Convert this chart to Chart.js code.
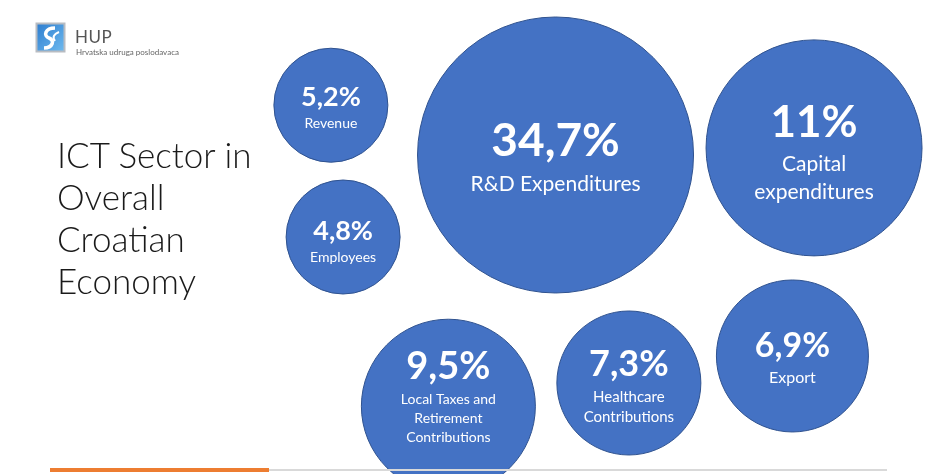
<!DOCTYPE html>
<html>
<head>
<meta charset="utf-8">
<title>ICT Sector in Overall Croatian Economy</title>
<script src="https://cdn.jsdelivr.net/npm/chart.js@4"></script>
<style>
  body { margin: 0; background: #fff; }
  #slide { position: relative; width: 940px; height: 474px; overflow: hidden; font-family: Lato, "Open Sans", sans-serif; }
  #chart { position: absolute; left: 0; top: 0; }
  .logo { position: absolute; left: 35px; top: 22px; }
  .hup { position: absolute; left: 75px; top: 26px; font-size: 17px; color: #555; letter-spacing: 0.5px; }
  .hup-sub { position: absolute; left: 76px; top: 47px; font-size: 8px; color: #666; }
  .title { position: absolute; left: 57px; top: 133px; font-size: 35px; line-height: 42px; font-weight: 300; color: #1a1a1a; }
  .line-orange { position: absolute; left: 50px; top: 468px; width: 219px; height: 4px; background: #ed7d31; }
  .line-grey { position: absolute; left: 269px; top: 469px; width: 618px; height: 2px; background: #d9d9d9; }
</style>
</head>
<body>
<div id="slide">
  <canvas id="chart" width="940" height="474"></canvas>
  <svg class="logo" width="31" height="31" viewBox="0 0 31 31">
    <defs>
      <linearGradient id="lg" x1="0" y1="0" x2="1" y2="1">
        <stop offset="0" stop-color="#2f7fd0"/>
        <stop offset="1" stop-color="#6cb8ee"/>
      </linearGradient>
    </defs>
    <rect x="0.5" y="0.5" width="30" height="30" fill="#b8bcc2"/>
    <rect x="2.5" y="2.5" width="26" height="26" fill="url(#lg)"/>
    <path d="M20 6 C10 6 8 14 14 16 C20 18 18 26 9 26" stroke="#fff" stroke-width="3.5" fill="none"/>
    <path d="M24 10 C19 12 17 15 20 19" stroke="#fff" stroke-width="2" fill="none"/>
  </svg>
  <div class="hup">HUP</div>
  <div class="hup-sub">Hrvatska udruga poslodavaca</div>
  <div class="title">ICT Sector in<br>Overall<br>Croatian<br>Economy</div>
  <div class="line-orange"></div>
  <div class="line-grey"></div>
</div>
<script>
// Значения и подписи пузырей
const values = ['5,2%', '4,8%', '34,7%', '11%', '9,5%', '7,3%', '6,9%'];
const categories = [
  ['Revenue'],
  ['Employees'],
  ['R&D Expenditures'],
  ['Capital', 'expenditures'],
  ['Local Taxes and', 'Retirement', 'Contributions'],
  ['Healthcare', 'Contributions'],
  ['Export']
];
// Координаты пузырей (x, y в условных единицах 0..100) и радиус
const bubbleX = [35.2, 36.5, 59.1, 86.6, 47.7, 66.9, 84.3];
const bubbleY = [22.2, 50.0, 32.7, 31.2, 85.7, 80.8, 75.1];
const bubbleR = [57, 57, 138, 108, 87, 72, 76];

// Стиль текста внутри пузырей
const pctSize = [27, 27, 46, 44, 38, 36, 34];
const labelSize = [14, 14, 21, 21, 14, 15, 16];
const textShift = [3, 5, 3, 6, -9, 4, 3];

const bubbleText = {
  id: 'bubbleText',
  afterDatasetsDraw(chart) {
    const ctx = chart.ctx;
    const meta = chart.getDatasetMeta(0);
    meta.data.forEach((pt, i) => {
      const p = pctSize[i], l = labelSize[i];
      const lh = l * 1.35, gap = p * 0.12;
      const lines = categories[i];
      const h = p + gap + lines.length * lh;
      const top = pt.y + textShift[i] - h / 2;
      ctx.save();
      ctx.fillStyle = '#fff';
      ctx.textAlign = 'center';
      ctx.textBaseline = 'middle';
      ctx.font = `bold ${p}px Lato, "Open Sans", sans-serif`;
      ctx.fillText(values[i], pt.x, top + p / 2);
      ctx.font = `${l}px Lato, "Open Sans", sans-serif`;
      lines.forEach((s, k) => ctx.fillText(s, pt.x, top + p + gap + lh * (k + 0.5)));
      ctx.restore();
    });
  }
};

new Chart(document.getElementById('chart').getContext('2d'), {
  type: 'bubble',
  data: {
    datasets: [{
      data: values.map((v, i) => ({ x: bubbleX[i], y: bubbleY[i], r: bubbleR[i] })),
      backgroundColor: '#4472c4',
      borderColor: '#2f528f',
      borderWidth: 1,
      hoverRadius: 0,
      clip: false
    }]
  },
  options: {
    responsive: false,
    animation: false,
    events: [],
    layout: { padding: 0, autoPadding: false },
    scales: {
      x: { display: false, min: 0, max: 100 },
      y: { display: false, min: 0, max: 100, reverse: true }
    },
    plugins: {
      legend: { display: false },
      tooltip: { enabled: false }
    }
  },
  plugins: [bubbleText]
});
</script>
</body>
</html>
